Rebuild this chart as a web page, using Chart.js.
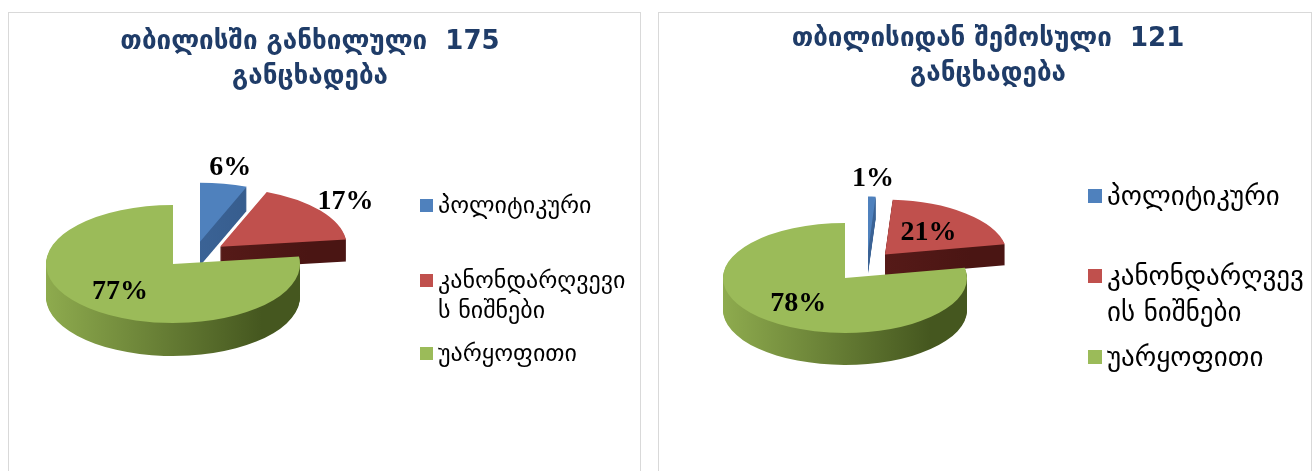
<!DOCTYPE html>
<html>
<head>
<meta charset="utf-8">
<script src="https://cdn.jsdelivr.net/npm/chart.js@4.4.1/dist/chart.umd.min.js"></script>
<style>
  body { margin: 0; width: 1314px; height: 471px; overflow: hidden; background: #fff; position: relative; }
  .panel { position: absolute; top: 12px; height: 470px; border: 1px solid #d9d9d9; background: #fff; overflow: hidden; }
  .panel canvas { position: absolute; left: 0; top: 0; }
  .title { position: absolute; transform: translateX(-50%); text-align: center; white-space: pre; color: #1f3c68;
           font: bold 26px "DejaVu Sans", sans-serif; line-height: 35px; }
  .legend-item { position: absolute; display: flex; align-items: flex-start; font-family: "DejaVu Sans", sans-serif; color: #000; }
  .legend-item i { flex: none; margin-right: 5px; }
  .legend-item span { flex: none; word-break: break-all; }
</style>
</head>
<body>
<div class="panel" id="p1" style="left:8px;width:631px"><canvas id="c1" width="631" height="458"></canvas></div>
<div class="panel" id="p2" style="left:658px;width:652px"><canvas id="c2" width="652" height="458"></canvas></div>
<script>
// data
const categories = ['პოლიტიკური', 'კანონდარღვევის ნიშნები', 'უარყოფითი'];
const reviewedInTbilisi = [6, 17, 77];      // თბილისში განხილული, 175 განცხადება
const receivedFromTbilisi = [1, 21, 78];    // თბილისიდან შემოსული, 121 განცხადება
const titleReviewed = ['თბილისში განხილული  175', 'განცხადება'];
const titleReceived = ['თბილისიდან შემოსული  121', 'განცხადება'];

// styling
const topColors = ['#4F81BD', '#C0504D', '#9BBB59'];
const sideColors = [['#4672AA', '#335887'], ['#66211F', '#4A1513'], ['#8EAB4E', '#45571F']];

// pseudo 3D pie: squash the arcs vertically and stack darker layers under them
const pie3d = {
    id: 'pie3d',
    beforeDatasetsDraw(chart, args, opts) {
        const ctx = chart.ctx;
        const arcs = chart.getDatasetMeta(0).data;
        const cx = arcs[0].x, cy = arcs[0].y;
        const k = opts.tilt;
        const maxDepth = Math.max(...opts.depth);
        ctx.save();
        ctx.translate(cx, cy);
        ctx.scale(1, k);
        ctx.translate(-cx, -cy);
        for (let d = maxDepth; d >= 1; d--) {
            arcs.forEach((arc, i) => {
                if (d > opts.depth[i]) return;
                const [ex, ey] = opts.explode[i];
                const r = arc.outerRadius;
                const ox = arc.x + ex, oy = arc.y + ey + d / k;
                const g = ctx.createLinearGradient(ox - r, 0, ox + r, 0);
                g.addColorStop(0, sideColors[i][0]);
                g.addColorStop(0.85, sideColors[i][1]);
                g.addColorStop(1, sideColors[i][1]);
                ctx.fillStyle = g;
                ctx.beginPath();
                ctx.moveTo(ox, oy);
                ctx.arc(ox, oy, r, arc.startAngle, arc.endAngle);
                ctx.closePath();
                ctx.fill();
            });
        }
        arcs.forEach((arc, i) => {
            ctx.save();
            ctx.translate(opts.explode[i][0], opts.explode[i][1]);
            arc.draw(ctx);
            ctx.restore();
        });
        ctx.restore();
        return false;
    },
    afterDraw(chart, args, opts) {
        const ctx = chart.ctx;
        const arcs = chart.getDatasetMeta(0).data;
        const values = chart.data.datasets[0].data;
        ctx.save();
        ctx.font = 'bold 28px "Liberation Serif", serif';
        ctx.fillStyle = '#000';
        ctx.textAlign = 'center';
        ctx.textBaseline = 'middle';
        arcs.forEach((arc, i) => {
            const mid = (arc.startAngle + arc.endAngle) / 2;
            const f = opts.labelRadius[i] * arc.outerRadius;
            const x = arc.x + opts.explode[i][0] + Math.cos(mid) * f;
            const y = arc.y + (opts.explode[i][1] + Math.sin(mid) * f) * opts.tilt;
            ctx.fillText(values[i] + '%', x, y);
        });
        ctx.restore();
    }
};

function padFor(w, h, cx, cy) {
    const px = Math.min(cx, w - cx), py = Math.min(cy, h - cy);
    return { left: cx - px, right: w - cx - px, top: cy - py, bottom: h - cy - py };
}

function makePanel(cfg) {
    const panel = document.getElementById(cfg.panel);
    const box = panel.getBoundingClientRect();
    const ox = box.left + 1, oy = box.top + 1;

    const t = document.createElement('div');
    t.className = 'title';
    t.style.left = (cfg.titleX - ox) + 'px';
    t.style.top = (cfg.titleTop - oy) + 'px';
    t.textContent = cfg.title.join('\n');
    panel.appendChild(t);

    categories.forEach((name, i) => {
        const item = document.createElement('div');
        item.className = 'legend-item';
        item.style.left = (cfg.legendX - ox) + 'px';
        item.style.top = (cfg.legendTops[i] - oy) + 'px';
        item.style.fontSize = cfg.legendFont + 'px';
        item.style.lineHeight = cfg.legendLine + 'px';
        const sw = document.createElement('i');
        sw.style.width = sw.style.height = cfg.swatch + 'px';
        sw.style.marginTop = ((cfg.legendLine - cfg.swatch) / 2) + 'px';
        sw.style.background = topColors[i];
        const txt = document.createElement('span');
        txt.style.width = cfg.legendWidth + 'px';
        txt.textContent = name;
        item.appendChild(sw);
        item.appendChild(txt);
        panel.appendChild(item);
    });

    const canvas = document.getElementById(cfg.canvas);
    return new Chart(canvas, {
        type: 'pie',
        data: {
            labels: categories,
            datasets: [{
                data: cfg.values,
                backgroundColor: topColors,
                borderWidth: 0,
                radius: cfg.radius
            }]
        },
        options: {
            responsive: false,
            animation: false,
            events: [],
            layout: { padding: padFor(canvas.width, canvas.height, cfg.cx - ox, cfg.cy - oy) },
            plugins: {
                legend: { display: false },
                tooltip: { enabled: false },
                pie3d: {
                    tilt: cfg.tilt,
                    depth: cfg.depth,
                    explode: cfg.explode,
                    labelRadius: cfg.labelRadius
                }
            }
        },
        plugins: [pie3d]
    });
}

makePanel({
    panel: 'p1', canvas: 'c1', title: titleReviewed, values: reviewedInTbilisi,
    titleX: 310, titleTop: 23,
    cx: 173, cy: 264, radius: 127, tilt: 0.465, depth: [24, 22, 33],
    explode: [[27, -48], [47, -37], [0, 0]],
    labelRadius: [1.27, 1.25, 0.63],
    legendX: 420, legendTops: [190, 265, 338], legendFont: 24, legendLine: 30, swatch: 13, legendWidth: 197
});

makePanel({
    panel: 'p2', canvas: 'c2', title: titleReceived, values: receivedFromTbilisi,
    titleX: 988, titleTop: 20,
    cx: 845, cy: 278, radius: 122, tilt: 0.45, depth: [22, 21, 32],
    explode: [[23, -59], [40, -52], [0, 0]],
    labelRadius: [1.32, 0.54, 0.6],
    legendX: 1088, legendTops: [178, 258, 339], legendFont: 27, legendLine: 36, swatch: 14, legendWidth: 200
});
</script>
</body>
</html>
